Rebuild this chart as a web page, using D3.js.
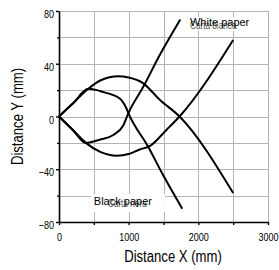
<!DOCTYPE html>
<html>
<head>
<meta charset="utf-8">
<script src="https://cdn.jsdelivr.net/npm/d3@7"></script>
<style>
  body { margin: 0; background: #fff; }
  text { font-family: "Liberation Sans", Arial, sans-serif; }
</style>
</head>
<body>
<script>
const margin = { top: 11, right: 11, bottom: 48, left: 59 };
const width = 279 - margin.left - margin.right;
const height = 270 - margin.top - margin.bottom;

// tick values
const xTicks = [0, 1000, 2000, 3000];
const xMinor = [500, 1500, 2500];
const yTicks = [-80, -40, 0, 40, 80];
const yMinor = [-60, -20, 20, 60];
const xGrid = [0, 500, 1000, 1500, 2000, 2500, 3000];
const yGrid = [-80, -60, -40, -20, 0, 20, 40, 60, 80];

// curves (distance X mm, distance Y mm)
const arcUpperX = [0, 210, 420, 600, 850, 1000, 1200, 1450, 1730, 2500];
const arcUpperY = [0, 10.5, 21, 27.5, 30.5, 29.5, 25.5, 12.5, 0, -58];
const arcLowerX = [0, 195, 385, 600, 830, 1000, 1160, 1300, 1545, 1730, 2500];
const arcLowerY = [0, -10, -20, -27, -29.7, -28.5, -25, -22.5, -10, 0, 58];
const innerUpperX = [0, 210, 420, 640, 875, 960, 1000, 1280, 1500, 1770];
const innerUpperY = [0, 10.5, 21, 18.5, 13.5, 7, 2, -23, -45, -70];
const innerLowerX = [0, 195, 385, 590, 780, 920, 1000, 1210, 1450, 1740];
const innerLowerY = [0, -10, -20, -17.5, -14, -7, 3, 22.5, 47, 73.5];

const curves = [
  [arcUpperX, arcUpperY],
  [arcLowerX, arcLowerY],
  [innerUpperX, innerUpperY],
  [innerLowerX, innerLowerY]
];

const x = d3.scaleLinear().domain([0, 3000]).range([0, width]);
const y = d3.scaleLinear().domain([-80, 80]).range([height, 0]);

const svg = d3.select("body")
  .append("svg")
  .attr("width", width + margin.left + margin.right)
  .attr("height", height + margin.top + margin.bottom)
  .append("g")
  .attr("transform", `translate(${ margin.left }, ${ margin.top })`);

// grid
svg.append("g").selectAll("line")
  .data(xGrid)
  .enter().append("line")
  .attr("x1", d => Math.round(x(d)) + 0.5)
  .attr("x2", d => Math.round(x(d)) + 0.5)
  .attr("y1", 0).attr("y2", height)
  .attr("stroke", "#b4b4b4");

svg.append("g").selectAll("line")
  .data(yGrid)
  .enter().append("line")
  .attr("y1", d => Math.round(y(d)) + 0.5)
  .attr("y2", d => Math.round(y(d)) + 0.5)
  .attr("x1", 0).attr("x2", width)
  .attr("stroke", "#b4b4b4");

// white boxes behind the labels
svg.append("rect")
  .attr("x", x(1850)).attr("y", y(75.4))
  .attr("width", x(2785) - x(1850)).attr("height", y(64.8) - y(75.4))
  .attr("fill", "#fff");
svg.append("rect")
  .attr("x", x(460)).attr("y", y(-58.7))
  .attr("width", x(1520) - x(460)).attr("height", y(-72.3) - y(-58.7))
  .attr("fill", "#fff");

const line = d3.line()
  .x(d => x(d[0]))
  .y(d => y(d[1]))
  .curve(d3.curveMonotoneX);

svg.selectAll(".curve")
  .data(curves)
  .enter().append("path")
  .attr("class", "curve")
  .attr("fill", "none")
  .attr("stroke", "#000")
  .attr("stroke-width", 2)
  .attr("d", c => line(c[0].map((v, i) => [v, c[1][i]])));

// labels
svg.append("text")
  .attr("class", "narrow")
  .attr("x", x(1880)).attr("y", y(66.5))
  .style("font-size", "10px")
  .style("fill", "#555")
  .text("Carta bianca");
svg.append("text")
  .attr("x", x(1880)).attr("y", y(69))
  .style("font-size", "11px")
  .text("White paper");

svg.append("text")
  .attr("class", "narrow")
  .attr("x", x(700)).attr("y", y(-68.5))
  .style("font-size", "10px")
  .style("fill", "#555")
  .text("Carta nera");
svg.append("text")
  .attr("x", x(500)).attr("y", y(-67))
  .style("font-size", "11px")
  .text("Black paper");

// axes
const xAxis = svg.append("g")
  .attr("transform", `translate(0, ${ height })`)
  .call(d3.axisBottom(x).tickValues(xTicks).tickSize(3).tickSizeOuter(0)
    .tickPadding(8).tickFormat(d3.format("d")));
svg.append("g")
  .attr("transform", `translate(0, ${ height })`)
  .call(d3.axisBottom(x).tickValues(xMinor).tickSize(3).tickFormat(""))
  .select(".domain").remove();

const yAxis = svg.append("g")
  .call(d3.axisLeft(y).tickValues(yTicks).tickSize(3).tickSizeOuter(0)
    .tickPadding(2).tickFormat(d3.format("d")));
svg.append("g")
  .call(d3.axisLeft(y).tickValues(yMinor).tickSize(2).tickFormat(""))
  .select(".domain").remove();

svg.selectAll(".tick text")
  .attr("class", "narrow")
  .style("font-size", "11px")
  .style("font-family", null);
yAxis.selectAll(".tick text").attr("dy", "0.6em");
svg.selectAll(".domain").attr("stroke-width", 1.6);
svg.selectAll(".tick line").attr("stroke-width", 1.4);

svg.append("text")
  .attr("class", "narrow")
  .attr("x", 114)
  .attr("y", height + 40)
  .style("text-anchor", "middle")
  .style("font-size", "16px")
  .text("Distance X (mm)");

svg.append("text")
  .attr("class", "narrow")
  .attr("transform", "rotate(-90)")
  .attr("x", -(y(0)))
  .attr("y", -36.5)
  .style("text-anchor", "middle")
  .style("font-size", "16px")
  .text("Distance Y (mm)");

// squeeze the narrow texts like a condensed face
svg.selectAll("text.narrow").each(function() {
  const w = this.getComputedTextLength();
  d3.select(this)
    .attr("textLength", w * 0.82)
    .attr("lengthAdjust", "spacingAndGlyphs");
});
</script>
</body>
</html>
